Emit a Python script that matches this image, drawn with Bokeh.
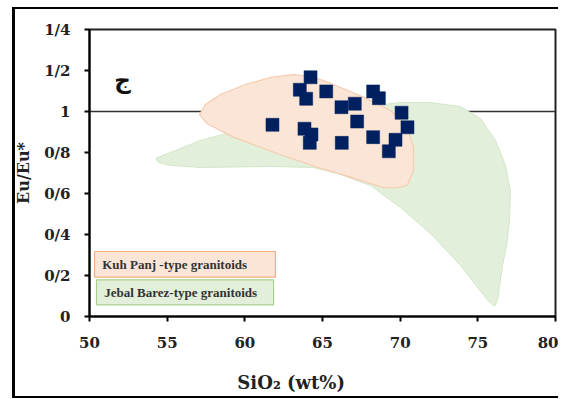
from bokeh.plotting import figure
from bokeh.models import Range1d, FixedTicker, Span, BoxAnnotation, Label
from bokeh.embed import file_html
from bokeh.resources import INLINE

# ---- data ----
sio2 = [64.23, 63.54, 63.95, 65.24, 68.26, 68.63, 66.22, 67.08, 70.09, 67.23,
        61.78, 63.84, 64.29, 64.18, 66.24, 68.26, 70.47, 69.70, 69.27]
eu_ratio = [1.167, 1.106, 1.062, 1.098, 1.098, 1.065, 1.021, 1.038, 0.994, 0.951,
            0.935, 0.916, 0.888, 0.847, 0.847, 0.875, 0.923, 0.862, 0.806]

kuh_x = [57.08, 57.47, 58.43, 60.04, 61.65, 63.13, 64.2, 65.06, 66.4, 67.64, 69.38,
         70.45, 70.86, 70.86, 70.45, 69.70, 68.93, 66.80, 64.66, 62.08, 59.27, 57.58]
kuh_y = [0.985, 1.034, 1.083, 1.132, 1.166, 1.180, 1.172, 1.151, 1.110, 1.070, 1.005,
         0.923, 0.826, 0.712, 0.639, 0.627, 0.628, 0.680, 0.728, 0.795, 0.875, 0.940]

jebal_x = [54.25, 55.54, 57.15, 59.08, 61.01, 63.58, 66.80, 70.02, 71.95, 73.88, 75.17,
           76.14, 76.78, 77.10, 77.04, 76.85, 76.59, 76.40, 76.27, 76.07, 75.69, 74.90,
           73.88, 71.95, 70.02, 68.09, 66.16, 64.42, 61.65, 57.15, 55.21, 54.44]
jebal_y = [0.771, 0.810, 0.859, 0.898, 0.927, 0.966, 1.015, 1.044, 1.044, 1.024, 0.966,
           0.859, 0.737, 0.615, 0.468, 0.346, 0.249, 0.151, 0.078, 0.049, 0.075, 0.150,
           0.250, 0.405, 0.532, 0.639, 0.693, 0.727, 0.732, 0.727, 0.737, 0.751]

x_ticks = [50, 55, 60, 65, 70, 75, 80]
y_ticks = [0, 0.2, 0.4, 0.6, 0.8, 1.0, 1.2, 1.4]
y_tick_labels = ["0", "0/2", "0/4", "0/6", "0/8", "1", "1/2", "1/4"]
group_names = ["Kuh Panj -type granitoids", "Jebal Barez-type granitoids"]
panel_letter = "ج"
reference_level = 1.0

SERIF = "DejaVu Serif"
W, H = 558, 398

p = figure(width=W, height=H, output_backend="svg", toolbar_location=None,
           x_range=Range1d(50, 80), y_range=Range1d(0, 1.4),
           min_border_left=89, min_border_right=3, min_border_top=29, min_border_bottom=82)
p.border_fill_color = None
p.styles = {
    "background-color": "white",
    "background-image": "linear-gradient(#000,#000), linear-gradient(#000,#000), linear-gradient(#000,#000)",
    "background-size": "3px 390px, calc(100% - 12px) 2px, calc(100% - 12px) 2px",
    "background-position": "12px 7px, 12px 7px, 12px 396px",
    "background-repeat": "no-repeat",
}

p.xgrid.visible = False
p.ygrid.visible = False
p.outline_line_color = "#222222"
p.outline_line_width = 2

for ax in (p.xaxis[0], p.yaxis[0]):
    ax.axis_line_width = 2
    ax.axis_line_color = "black"
    ax.major_tick_line_width = 2
    ax.major_tick_line_color = "black"
    ax.major_tick_in = 0
    ax.major_tick_out = 5
    ax.minor_tick_line_color = None
    ax.major_label_text_font = SERIF
    ax.major_label_text_font_style = "bold"
    ax.major_label_text_font_size = "15px"
    ax.major_label_text_color = "#222222"
    ax.axis_label_text_font = SERIF
    ax.axis_label_text_font_style = "bold"
    ax.axis_label_text_color = "#222222"

p.xaxis.ticker = FixedTicker(ticks=x_ticks)
p.yaxis.ticker = FixedTicker(ticks=y_ticks)
p.yaxis.major_label_overrides = dict(zip(y_ticks, y_tick_labels))
p.xaxis.major_label_standoff = 15
p.yaxis.major_label_standoff = 14

p.xaxis.axis_label = "SiO\u2082 (wt%)" + "\u00a0" * 10
p.xaxis.axis_label_text_font_size = "18px"
p.xaxis.axis_label_standoff = 21
p.yaxis.axis_label = "Eu/Eu*"
p.yaxis.axis_label_text_font_size = "16px"
p.yaxis.axis_label_standoff = 8

ref_line = Span(location=reference_level, dimension="width", line_color="#333333",
                line_width=1.5, level="underlay")
p.add_layout(ref_line)

p.patch(jebal_x, jebal_y, fill_color="#E2EFDA", fill_alpha=1.0,
        line_color="#D3E6C8", line_width=1)
p.patch(kuh_x, kuh_y, fill_color="#FBE5D6", fill_alpha=1.0,
        line_color="#F6CBB0", line_width=1.2)

p.scatter(sio2, eu_ratio, marker="square", size=13, fill_color="#002060",
          line_color="#002060", line_width=0.5)

p.add_layout(Label(x=52.12, y=1.156, text=panel_letter, text_align="center",
                   text_baseline="middle", text_font="DejaVu Sans",
                   text_font_style="bold", text_font_size="23px", text_color="#111111"))

box_fill = ["#FBE5D6", "#E2EFDA"]
box_line = ["#F4B183", "#A9D18E"]
box_l = [50.32, 50.45]
box_r = [61.97, 61.85]
box_b = [0.192, 0.057]
box_t = [0.317, 0.179]
for i in range(2):
    p.add_layout(BoxAnnotation(left=box_l[i], right=box_r[i], bottom=box_b[i], top=box_t[i],
                               fill_color=box_fill[i], fill_alpha=1.0,
                               line_color=box_line[i], line_width=1.2, line_alpha=1.0))
    p.add_layout(Label(x=box_l[i] + 0.5, y=(box_b[i] + box_t[i]) / 2, text=group_names[i],
                       text_baseline="middle", text_font="Liberation Serif",
                       text_font_style="bold", text_font_size="13px", text_color="#333333"))

open("out.html", "w").write(file_html(p, INLINE))
